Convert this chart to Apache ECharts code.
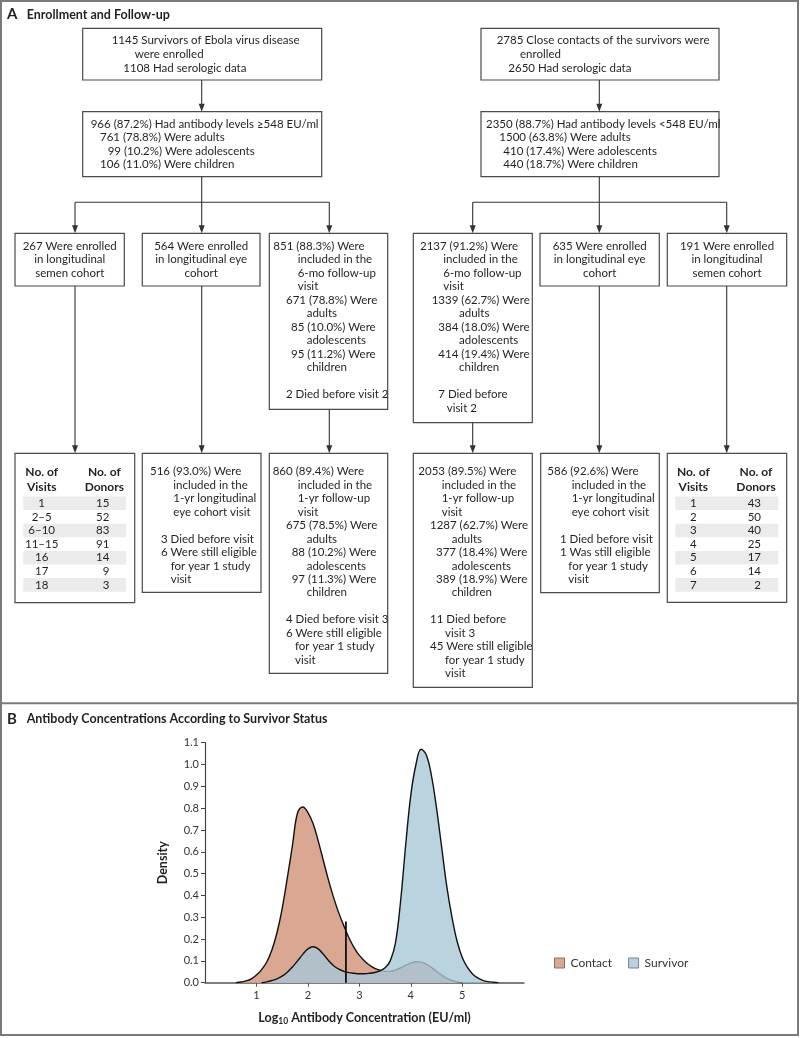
<!DOCTYPE html>
<html><head><meta charset="utf-8">
<script src="https://cdn.jsdelivr.net/npm/echarts@6/dist/echarts.min.js"></script>
<style>html,body{margin:0;padding:0;background:#fff}#c{width:800px;height:1038px}</style>
</head><body><div id="c"></div>
<script>
// ================= DATA =================
// Panel B: kernel density estimates
const contactX = [0.6,0.7,0.8,0.9,1.0,1.1,1.2,1.3,1.4,1.5,1.6,1.7,1.8,1.9,2.0,2.1,2.2,2.3,2.4,2.5,2.6,2.7,2.8,2.9,3.0,3.1,3.2,3.3,3.4,3.5,3.6,3.7,3.8,3.9,4.0,4.1,4.2,4.3,4.4,4.5,4.6,4.7,4.8,4.9,5.0];
const contactY = [0,0.003,0.008,0.018,0.035,0.06,0.095,0.15,0.23,0.34,0.48,0.63,0.78,0.805,0.78,0.73,0.65,0.56,0.47,0.39,0.32,0.26,0.205,0.16,0.125,0.1,0.08,0.066,0.057,0.052,0.052,0.058,0.068,0.08,0.09,0.096,0.094,0.085,0.07,0.052,0.035,0.02,0.01,0.004,0];
const survivorX = [1.1,1.2,1.3,1.4,1.5,1.6,1.7,1.8,1.9,2.0,2.1,2.2,2.3,2.4,2.5,2.6,2.7,2.8,2.9,3.0,3.1,3.2,3.3,3.4,3.5,3.6,3.7,3.8,3.9,4.0,4.1,4.2,4.3,4.4,4.5,4.6,4.7,4.8,4.9,5.0,5.1,5.2,5.3,5.4,5.5,5.6,5.7];
const survivorY = [0,0.004,0.01,0.018,0.03,0.048,0.072,0.1,0.13,0.155,0.165,0.155,0.13,0.102,0.078,0.062,0.052,0.046,0.043,0.041,0.041,0.043,0.047,0.054,0.068,0.1,0.18,0.37,0.63,0.86,1.0,1.07,1.045,0.95,0.8,0.62,0.44,0.3,0.19,0.115,0.07,0.04,0.022,0.011,0.005,0.002,0];
const cutoffX = [2.739, 2.739];      // log10(548 EU/ml)
const cutoffY = [0, 0.28];
const xTickValues = [1,2,3,4,5];
const seriesNames = ['Contact','Survivor'];

// Panel A: semen cohort tables
const survivorSemenVisits = ['1','2\u20135','6\u201310','11\u201315','16','17','18'];
const survivorSemenDonors = [15,52,83,91,14,9,3];
const contactSemenVisits = ['1','2','3','4','5','6','7'];
const contactSemenDonors = [43,50,40,25,17,14,2];
const tableHeaders = [['No. of','Visits'],['No. of','Donors']];

// Panel A: flowchart text
const titleA = 'Enrollment and Follow-up';
const titleB = 'Antibody Concentrations According to Survivor Status';
const txtSurvEnrolled = ['1145 Survivors of Ebola virus disease','were enrolled','1108 Had serologic data'];
const txtContEnrolled = ['2785 Close contacts of the survivors were','enrolled','2650 Had serologic data'];
const txtSurvAb = ['966 (87.2%) Had antibody levels \u2265548 EU/ml','761 (78.8%) Were adults','99 (10.2%) Were adolescents','106 (11.0%) Were children'];
const txtContAb = ['2350 (88.7%) Had antibody levels <548 EU/ml','1500 (63.8%) Were adults','410 (17.4%) Were adolescents','440 (18.7%) Were children'];
const txtSurvSemen = ['267 Were enrolled','in longitudinal','semen cohort'];
const txtSurvEye = ['564 Were enrolled','in longitudinal eye','cohort'];
const txtSurv6mo = ['851 (88.3%) Were','included in the','6-mo follow-up','visit','671 (78.8%) Were','adults','85 (10.0%) Were','adolescents','95 (11.2%) Were','children','2 Died before visit 2'];
const txtCont6mo = ['2137 (91.2%) Were','included in the','6-mo follow-up','visit','1339 (62.7%) Were','adults','384 (18.0%) Were','adolescents','414 (19.4%) Were','children','7 Died before','visit 2'];
const txtContEye = ['635 Were enrolled','in longitudinal eye','cohort'];
const txtContSemen = ['191 Were enrolled','in longitudinal','semen cohort'];
const txtSurvEye1y = ['516 (93.0%) Were','included in the','1-yr longitudinal','eye cohort visit','3 Died before visit','6 Were still eligible','for year 1 study','visit'];
const txtSurv1y = ['860 (89.4%) Were','included in the','1-yr follow-up','visit','675 (78.5%) Were','adults','88 (10.2%) Were','adolescents','97 (11.3%) Were','children','4 Died before visit 3','6 Were still eligible','for year 1 study','visit'];
const txtCont1y = ['2053 (89.5%) Were','included in the','1-yr follow-up','visit','1287 (62.7%) Were','adults','377 (18.4%) Were','adolescents','389 (18.9%) Were','children','11 Died before','visit 3','45 Were still eligible','for year 1 study','visit'];
const txtContEye1y = ['586 (92.6%) Were','included in the','1-yr longitudinal','eye cohort visit','1 Died before visit','1 Was still eligible','for year 1 study','visit'];

// ================= LAYOUT / STYLE =================
const FONT = 'Lato, "Noto Sans", sans-serif';
const FS = 11.5;
const TXT = '#231f20';
const BOX_STROKE = '#4a4a4a';
const LINE = '#333';
const G = [];

function rect(x,y,w,h,fill,stroke,lw){
  G.push({type:'rect',silent:true,z:10,shape:{x:x,y:y,width:w,height:h},style:{fill:fill||'#fff',stroke:stroke||BOX_STROKE,lineWidth:lw==null?1.2:lw}});
}
function text(x,y,s,opt){
  opt=opt||{};
  G.push({type:'text',silent:true,z:20,style:{text:s,x:x,y:y,fill:opt.color||TXT,
    font:(opt.bold?'bold ':'')+(opt.size||FS)+'px '+FONT,
    align:opt.align||'left',textAlign:opt.align||'left',verticalAlign:'middle',textVerticalAlign:'middle'}});
}
function seg(x1,y1,x2,y2,c,lw){
  G.push({type:'line',silent:true,z:10,shape:{x1:x1,y1:y1,x2:x2,y2:y2},style:{stroke:c||LINE,lineWidth:lw||1.1}});
}
function arrow(x,y1,y2){
  seg(x,y1,x,y2-6);
  G.push({type:'polygon',silent:true,z:10,shape:{points:[[x-3,y2-8],[x+3,y2-8],[x,y2]]},style:{fill:LINE}});
}
function block(lines,xs,y0,step,rows){
  lines.forEach(function(s,i){ text(xs[i], y0+step*rows[i], s); });
}
function centered(lines,cx,y0,step){
  lines.forEach(function(s,i){ text(cx, y0+step*i, s, {align:'center'}); });
}
function table(x,visits,donors,visitCx,donorRight,bandX,bandW,headY,rowY0){
  const step=13.6;
  text(visitCx, headY, tableHeaders[0][0], {bold:true,align:'center',size:12});
  text(visitCx, headY+14.4, tableHeaders[0][1], {bold:true,align:'center',size:12});
  text(donorRight-5, headY, tableHeaders[1][0], {bold:true,align:'center',size:12});
  text(donorRight-5, headY+14.4, tableHeaders[1][1], {bold:true,align:'center',size:12});
  visits.forEach(function(v,i){
    if(i%2===0) rect(bandX, rowY0+step*i-6.8, bandW, step, '#ebebeb', 'none', 0);
  });
  visits.forEach(function(v,i){
    text(visitCx, rowY0+step*i, v, {align:'center'});
    text(donorRight, rowY0+step*i, String(donors[i]), {align:'right'});
  });
}

// outer frame & divider
rect(1,1,797,1034,'none','#7a7a7a',2);
seg(1,703.3,798,703.3,'#7a7a7a',2);
// titles
text(7,14.5,'A',{bold:true,size:15});
text(26.7,14.5,titleA,{bold:true,size:12.5});
text(7,719,'B',{bold:true,size:15});
text(26.7,719,titleB,{bold:true,size:12.5});

// top boxes
rect(82.7,28.3,239,51.7);
block(txtSurvEnrolled,[111.7,134.7,123.3],40.7,13.3,[0,1,2.05]);
rect(481,28.3,238,51.7);
block(txtContEnrolled,[496.7,520,508.3],40.7,13.3,[0,1,2.05]);
arrow(201.7,80,111.7);
arrow(599.3,80,111.7);
rect(82.7,111.7,239,65);
block(txtSurvAb,[90.7,100,107.7,100],124.3,13.35,[0,1,2,3]);
rect(481,111.7,238,65);
block(txtContAb,[486,499.3,503.3,503.3],124.3,13.35,[0,1,2,3]);

// branches
seg(201.7,176.7,201.7,202.3); seg(75,202.3,329.3,202.3);
seg(599.3,176.7,599.3,202.3); seg(472.7,202.3,726.7,202.3);
[75,201.7,329.3,472.7,599.3,726.7].forEach(function(x){ arrow(x,202.3,233.3); });

// second row boxes
const R = [0,1,2,3,4,5,6,7,8,9,11,12,13,14,15];
rect(15,233.3,109.3,52.7); centered(txtSurvSemen,69.7,246,13.5);
rect(142.3,233.3,117.7,52.7); centered(txtSurvEye,201.2,246,13.5);
rect(269.3,233.3,118.4,176); block(txtSurv6mo,[273.3,297.7,297.7,297.7,286,306.7,291,306.7,291,306.7,286],246,13.5,R);
rect(413.3,233.3,119,189.4); block(txtCont6mo,[420,443.3,443.3,443.3,431.7,459,438.3,459,438.3,459,438.3,446.7],246,13.5,R);
rect(540,233.3,119.3,52.7); centered(txtContEye,599.7,246,13.5);
rect(667.3,233.3,119.4,52.7); centered(txtContSemen,727,246,13.5);

// arrows to third row
arrow(75,286,453.3); arrow(201.7,286,453.3); arrow(329.3,409.3,453.3);
arrow(472.7,422.7,453.3); arrow(599.3,286,453.3); arrow(726.7,286,453.3);

// third row
const R2 = [0,1,2,3,5,6,7,8];
rect(15,453.3,119.7,149.4);
table(15,survivorSemenVisits,survivorSemenDonors,41.7,109.3,23.3,102.7,472.3,503.3);
rect(142.3,453.3,118.7,139); block(txtSurvEye1y,[150,173.3,173.3,173.3,161,161,170.7,170.7],471.7,13.45,R2);
rect(269.3,453.3,118.4,220); block(txtSurv1y,[272.7,297.7,297.7,297.7,286,306.7,291.7,306.7,291.7,306.7,286,286,295,295],471.7,13.45,R);
rect(413.3,453.3,119,234); block(txtCont1y,[418.3,441.7,441.7,441.7,430,451.7,436,451.7,436,451.7,430,445,430,445,445],471.7,13.45,R);
rect(540.7,453.3,118.6,139.4); block(txtContEye1y,[547.3,571.7,571.7,571.7,560,560,568.3,568.3],471.7,13.45,R2);
rect(667.3,453.3,119.4,149);
table(667.3,contactSemenVisits,contactSemenDonors,693.3,761,675.3,103,472.3,503.3);

// ================= CHART =================
function pairs(xs,ys){ return xs.map(function(x,i){ return [x, ys[i]]; }); }
const chart = echarts.init(document.getElementById('c'), null, {renderer:'canvas', width:800, height:1038});
chart.setOption({
  animation:false,
  backgroundColor:'#fff',
  textStyle:{fontFamily:FONT},
  grid:{left:205, top:742.7, width:319, height:240, containLabel:false},
  legend:{
    left:549, top:952, icon:'rect', itemWidth:10, itemHeight:10, itemGap:16,
    textStyle:{fontFamily:FONT, fontSize:12, color:'#333', padding:[0,0,0,1]},
    data:[
      {name:seriesNames[0], itemStyle:{color:'#daa792', borderColor:'#8a6f63', borderWidth:1}},
      {name:seriesNames[1], itemStyle:{color:'#b9d2de', borderColor:'#6f8590', borderWidth:1}}
    ]
  },
  xAxis:{
    type:'value', min:0, max:6.2, interval:1,
    name:'{a|Log}{s|10}{a| Antibody Concentration (EU/ml)}',
    nameLocation:'middle', nameGap:28,
    nameTextStyle:{rich:{
      a:{fontFamily:FONT, fontWeight:'bold', fontSize:12.5, color:'#231f20'},
      s:{fontFamily:FONT, fontWeight:'bold', fontSize:8.5, color:'#231f20', verticalAlign:'bottom', padding:[6,0,0,0]}
    }},
    axisLine:{lineStyle:{color:'#555', width:1.5}},
    axisTick:{customValues:xTickValues, length:4, lineStyle:{color:'#555'}},
    axisLabel:{customValues:xTickValues, fontSize:11, color:'#333', margin:7},
    splitLine:{show:false}
  },
  yAxis:{
    type:'value', min:0, max:1.1, interval:0.1,
    name:'Density', nameLocation:'middle', nameGap:36, nameRotate:90,
    nameTextStyle:{fontFamily:FONT, fontWeight:'bold', fontSize:12.5, color:'#231f20'},
    axisLine:{show:true, lineStyle:{color:'#444', width:1.2}},
    axisTick:{show:true, length:4, lineStyle:{color:'#444'}},
    axisLabel:{fontSize:11, color:'#333', margin:6, formatter:function(v){ return v.toFixed(1); }},
    splitLine:{show:false}
  },
  series:[
    {name:seriesNames[0], type:'line', data:pairs(contactX,contactY), smooth:0.4, showSymbol:false, symbol:'none',
     itemStyle:{color:'#daa792'}, lineStyle:{color:'#111', width:1.4}, areaStyle:{color:'#daa792', opacity:1}, z:2},
    {name:seriesNames[1], type:'line', data:pairs(survivorX,survivorY), smooth:0.4, showSymbol:false, symbol:'none',
     itemStyle:{color:'#b9d2de'}, lineStyle:{color:'#111', width:1.4}, areaStyle:{color:'rgba(168,200,215,0.8)', opacity:1}, z:3},
    {name:'cutoff', type:'line', data:pairs(cutoffX,cutoffY), showSymbol:false, symbol:'none',
     lineStyle:{color:'#111', width:1.8}, z:4}
  ],
  graphic:{elements:G}
});
</script></body></html>
